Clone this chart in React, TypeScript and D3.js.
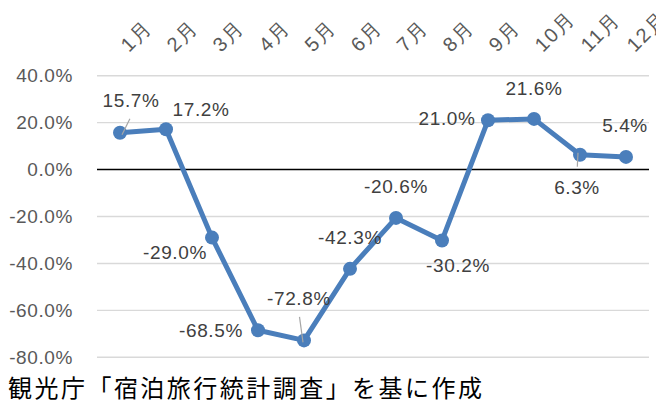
import * as d3 from "d3";

const months = ["1月", "2月", "3月", "4月", "5月", "6月", "7月", "8月", "9月", "10月", "11月", "12月"];
const changePct = [15.7, 17.2, -29.0, -68.5, -72.8, -42.3, -20.6, -30.2, 21.0, 21.6, 6.3, 5.4];
const yTicks = [40, 20, 0, -20, -40, -60, -80];
const source = "観光庁「宿泊旅行統計調査」を基に作成";

// label placement relative to each point (dx, dy of the text centre)
const labelShift: [number, number][] = [
  [11, -32], [35, -20], [-37, 15], [-47, 0], [-5, -42], [0, -31],
  [0, -31], [16, 25], [-41, -2], [0, -30], [-3, 33], [-1, -31],
];
// months whose label gets a thin leader line
const leaders = new Set([0, 4, 10]);

const W = 656;
const H = 403;
const blue = "#4a7ebb";
const grey = "#595959";
const font = "'Liberation Sans', Arial, sans-serif";

export default function App() {
  const x = d3.scaleBand<string>().domain(months).range([97, 649]);
  const y = d3.scaleLinear().domain([-80, 40]).range([357.3, 75.7]);
  const cx = (i: number) => (x(months[i]) ?? 0) + x.bandwidth() / 2;

  const line = d3
    .line<number>()
    .x((_, i) => cx(i))
    .y((d) => y(d));

  const fmt = (v: number) => `${v.toFixed(1)}%`;

  return (
    <svg
      width={W}
      height={H}
      viewBox={`0 0 ${W} ${H}`}
      style={{ position: "absolute", left: 0, top: 0, background: "#fff" }}
    >
      {yTicks.map((t) => (
        <g key={t}>
          <line
            x1={97}
            x2={649}
            y1={y(t)}
            y2={y(t)}
            stroke={t === 0 ? "#000" : "#d9d9d9"}
            strokeWidth={1.4}
          />
          <text
            x={73}
            y={y(t)}
            textAnchor="end"
            dominantBaseline="central"
            fill={grey}
            fontFamily={font}
            fontSize={19}
            letterSpacing={0.6}
          >
            {fmt(t)}
          </text>
        </g>
      ))}

      {months.map((m, i) => (
        <text
          key={m}
          transform={`translate(${cx(i) + 9},53) rotate(-45)`}
          fill={grey}
          fontFamily={font}
          fontSize={20}
          letterSpacing={1.5}
        >
          {m}
        </text>
      ))}

      <path d={line(changePct) ?? ""} fill="none" stroke={blue} strokeWidth={5} strokeLinejoin="round" />
      {changePct.map((v, i) => (
        <circle key={i} cx={cx(i)} cy={y(v)} r={7} fill={blue} />
      ))}

      {changePct.map((v, i) => {
        const [dx, dy] = labelShift[i];
        const px = cx(i);
        const py = y(v);
        return (
          <g key={i}>
            {leaders.has(i) && (
              <line
                x1={px + (dx > 0 ? 2 : dx < -3 ? -1 : -2)}
                y1={py - Math.sign(dy) * 2}
                x2={px + dx * 0.9}
                y2={py + dy * (dy < 0 ? (i === 4 ? 0.56 : 0.44) : 0.36)}
                stroke="#a6a6a6"
                strokeWidth={1.2}
              />
            )}
            <text
              x={px + dx}
              y={py + dy}
              textAnchor="middle"
              dominantBaseline="central"
              fill="#404040"
              fontFamily={font}
              fontSize={19}
              letterSpacing={0.6}
            >
              {fmt(v)}
            </text>
          </g>
        );
      })}

      <text
        x={8}
        y={397}
        fill="#000"
        fontFamily="'Noto Sans CJK JP', sans-serif"
        fontSize={24}
        textLength={474}
        lengthAdjust="spacing"
      >
        {source}
      </text>
    </svg>
  );
}
